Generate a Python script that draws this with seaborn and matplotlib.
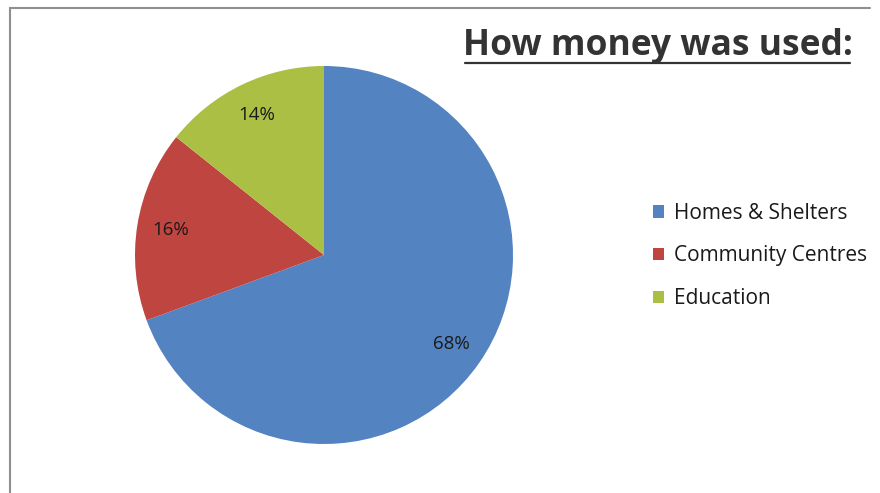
import matplotlib
matplotlib.use("Agg")
import matplotlib.pyplot as plt
import seaborn as sns
from matplotlib.lines import Line2D

categories = ["Homes & Shelters", "Community Centres", "Education"]
values = [68, 16, 14]
pct_labels = ["68%", "16%", "14%"]
colors = ["#5383C0", "#BF4541", "#ABBF45"]
title = "How money was used:"

sns.set_theme(style="white")
plt.rcParams['font.family'] = ['Open Sans', 'DejaVu Sans']

fig = plt.figure(figsize=(8.8, 4.93), dpi=100)
fig.patch.set_facecolor("white")

W, H = 880, 493
cx, cy, r = 324, 255, 189
ax = fig.add_axes([(cx - r) / W, (H - cy - r) / H, 2 * r / W, 2 * r / H])

wedges, texts = ax.pie(values, labels=pct_labels, colors=colors, startangle=90,
                       counterclock=False, labeldistance=0.82,
                       wedgeprops=dict(linewidth=0),
                       textprops=dict(fontsize=13.5, color="#1a1a1a"))
for t in texts:
    t.set_horizontalalignment("center")
    t.set_verticalalignment("center")
ax.set_xlim(-1, 1)
ax.set_ylim(-1, 1)

leg = fig.legend(wedges, categories, loc="center left",
                 bbox_to_anchor=(634 / W, 1 - 256 / H), frameon=False,
                 fontsize=15, handlelength=0.55, handleheight=0.55,
                 handletextpad=0.45, labelspacing=1.05)
for t in leg.get_texts():
    t.set_color("#1a1a1a")

fig.text(658 / W, 1 - 46 / H, title, ha="center", va="center",
         fontsize=25.5, fontweight="bold", color="#333333")
# underline
fig.add_artist(Line2D([465 / W, 850 / W], [1 - 63 / H, 1 - 63 / H],
                      color="#333333", linewidth=1.6, transform=fig.transFigure))

# frame lines
fig.add_artist(Line2D([9.5 / W, 9.5 / W], [0, 1 - 8 / H], color="#8f8f8f",
                      linewidth=1.5, transform=fig.transFigure))
fig.add_artist(Line2D([9.5 / W, 870 / W], [1 - 8 / H, 1 - 8 / H], color="#8f8f8f",
                      linewidth=1.5, transform=fig.transFigure))

fig.savefig("out.png", dpi=100, facecolor="white")
